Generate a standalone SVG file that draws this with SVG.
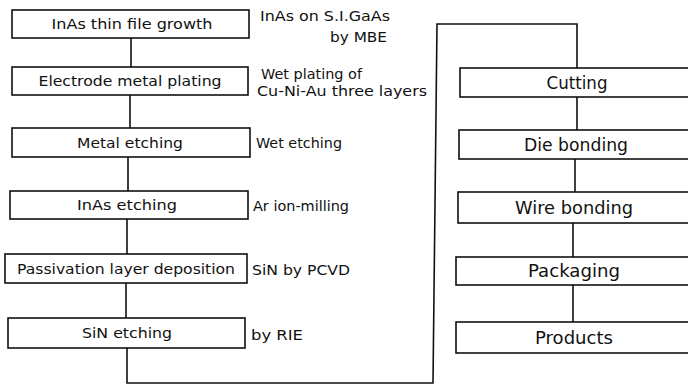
<svg xmlns="http://www.w3.org/2000/svg" width="688" height="385" viewBox="0 0 688 385">
<style>
.box{fill:#fff;stroke:#111;stroke-width:1.6}
.ln{fill:none;stroke:#111;stroke-width:1.6}
text{font-family:"DejaVu Sans","Liberation Sans",sans-serif;fill:#111}
.t{font-size:14.5px;text-anchor:middle}
.r{font-size:18px;text-anchor:middle}
.a{font-size:13.5px}
</style>
<rect width="688" height="385" fill="#fff"/>
<g id="connectors">
<path class="ln" d="M131,38 V67 M130,95 V128 M128,157 V191 M127,219 V254 M126,283 V318"/>
<path class="ln" d="M127,348 V383 H433 L437,24 H577 V68"/>
<path class="ln" d="M577,97 V130 M575,159 V192 M573,223 V257 M573,285 V322"/>
</g>
<g id="n1"><rect class="box" x="12" y="10" width="237" height="28"/><text class="t" x="132" y="29" textLength="161" lengthAdjust="spacingAndGlyphs">InAs thin file growth</text></g>
<g id="n2"><rect class="box" x="12" y="67" width="236" height="28"/><text class="t" x="130" y="86" textLength="183" lengthAdjust="spacingAndGlyphs">Electrode metal plating</text></g>
<g id="n3"><rect class="box" x="12" y="128" width="238" height="29"/><text class="t" x="130" y="148" textLength="106" lengthAdjust="spacingAndGlyphs">Metal etching</text></g>
<g id="n4"><rect class="box" x="10" y="191" width="238" height="28"/><text class="t" x="127" y="210" textLength="100" lengthAdjust="spacingAndGlyphs">InAs etching</text></g>
<g id="n5"><rect class="box" x="5" y="254" width="242" height="29"/><text class="t" x="126" y="274" textLength="218" lengthAdjust="spacingAndGlyphs">Passivation layer deposition</text></g>
<g id="n6"><rect class="box" x="8" y="318" width="237" height="30"/><text class="t" x="127" y="338" textLength="90" lengthAdjust="spacingAndGlyphs">SiN etching</text></g>
<g id="a1"><text class="a" x="260" y="21" textLength="130" lengthAdjust="spacingAndGlyphs">InAs on S.I.GaAs</text><text class="a" x="330" y="42" textLength="57" lengthAdjust="spacingAndGlyphs">by MBE</text></g>
<g id="a2"><text class="a" x="261" y="79" textLength="101" lengthAdjust="spacingAndGlyphs">Wet plating of</text><text class="a" x="257" y="96" textLength="170" lengthAdjust="spacingAndGlyphs">Cu-Ni-Au three layers</text></g>
<g id="a3"><text class="a" x="256" y="148" textLength="86" lengthAdjust="spacingAndGlyphs">Wet etching</text></g>
<g id="a4"><text class="a" x="253" y="211" textLength="96" lengthAdjust="spacingAndGlyphs">Ar ion-milling</text></g>
<g id="a5"><text class="a" x="252" y="275" textLength="98" lengthAdjust="spacingAndGlyphs">SiN by PCVD</text></g>
<g id="a6"><text class="a" x="251" y="340" textLength="52" lengthAdjust="spacingAndGlyphs">by RIE</text></g>
<g id="r1"><rect class="box" x="460" y="68" width="240" height="29"/><text class="r" x="577" y="89" textLength="61" lengthAdjust="spacingAndGlyphs">Cutting</text></g>
<g id="r2"><rect class="box" x="459" y="130" width="240" height="29"/><text class="r" x="576" y="151" textLength="104" lengthAdjust="spacingAndGlyphs">Die bonding</text></g>
<g id="r3"><rect class="box" x="458" y="192" width="240" height="31"/><text class="r" x="574" y="214" textLength="118" lengthAdjust="spacingAndGlyphs">Wire bonding</text></g>
<g id="r4"><rect class="box" x="456" y="257" width="240" height="28"/><text class="r" x="574" y="277" textLength="92" lengthAdjust="spacingAndGlyphs">Packaging</text></g>
<g id="r5"><rect class="box" x="456" y="322" width="240" height="31"/><text class="r" x="574" y="344" textLength="78" lengthAdjust="spacingAndGlyphs">Products</text></g>
</svg>
